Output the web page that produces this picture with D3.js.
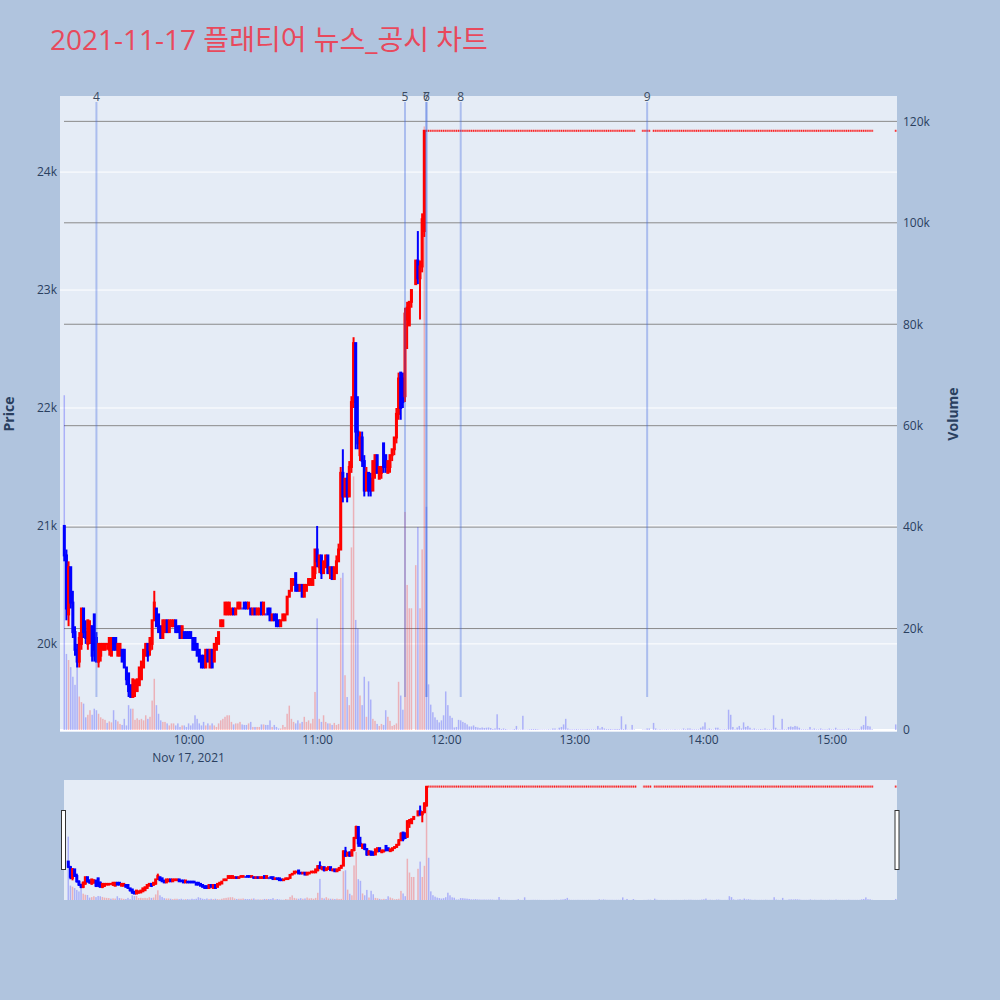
<!DOCTYPE html>
<html><head><meta charset="utf-8">
<script src="https://cdn.jsdelivr.net/npm/d3@7"></script>
<style>html,body{margin:0;padding:0;background:#b0c4de;}svg{display:block}</style>
</head><body>
<svg id="chart" width="1000" height="1000"></svg>
<script>
// ---------------- DATA ----------------
const chartTitle = "2021-11-17 플래티어 뉴스_공시 차트";
const dateLabel = "Nov 17, 2021";
const activeStart = "09:02";   // first minute candle, one value per minute, null = no trade
const openP = [
21000,20750,20250,20650,20350,20100,19950,19850,20000,20300,
20100,20000,20050,20150,20250,20050,19850,19900,19950,19950,
20000,19950,19900,20050,20050,19900,19900,19950,19950,19800,
19750,19650,19550,19600,19600,19650,19700,19800,19900,20000,
19950,20000,20200,20300,20250,20150,20050,20100,20200,20100,
20150,20150,20200,20150,20150,20050,20100,20100,20100,20100,
20050,20050,20000,19950,19900,19900,19800,19950,19800,19950,
19850,19950,20000,20150,20150,20250,20250,20250,20250,20300,
20250,20300,20300,20300,20350,20350,20300,20300,20250,20300,
20250,20250,20350,20250,20250,20300,20300,20200,20250,20250,
20200,20150,20200,20200,20250,20400,20450,20500,20600,20500,
20450,20500,20400,20450,20500,20500,20500,20600,20800,20650,
20750,20600,20650,20750,20600,20650,20550,20600,20700,20800,
21450,21250,21400,21250,21500,22050,22550,21800,21600,21750,
21550,21300,21450,21400,21300,21450,21600,21400,21450,21700,
21600,21450,21500,21600,21650,21750,21950,22300,22250,22100,
22750,22700,22900,null,23050,23250,23100,23200,23500];
const highP = [
21000,20800,20700,20650,20450,20150,20000,20100,20300,20300,
20200,20200,20200,20150,20250,20100,20000,20000,20000,20000,
20000,20050,20050,20050,20050,20000,20000,19950,19950,19800,
19750,19650,19700,19700,19700,19800,19850,19950,20000,20000,
20050,20200,20450,20300,20250,20150,20200,20200,20200,20200,
20200,20200,20200,20150,20150,20150,20100,20100,20100,20100,
20050,20050,20000,19950,19900,19900,19950,19950,19950,19950,
20000,20050,20100,20200,20200,20350,20350,20350,20300,20300,
20300,20350,20350,20300,20350,20350,20350,20300,20300,20300,
20300,20300,20350,20350,20250,20300,20300,20250,20250,20250,
20200,20200,20250,20250,20400,20450,20550,20550,20600,20500,
20500,20500,20500,20500,20550,20550,20650,20800,21000,20750,
20750,20700,20750,20750,20650,20650,20650,20750,20850,21500,
21650,21400,21450,21550,22100,22600,22550,22100,21800,21800,
21600,21500,21450,21450,21550,21600,21600,21500,21500,21700,
21600,21550,21600,21650,21750,22000,22300,22300,22300,22850,
22900,22900,23000,null,23250,23500,23250,23650,24350];
const lowP = [
20700,20200,20150,20300,20050,19900,19800,19800,19950,20050,
20000,19950,20000,19850,19850,19850,19800,19850,19950,19950,
19950,19900,19900,19950,19950,19900,19900,19850,19800,19650,
19550,19550,19550,19550,19600,19650,19700,19800,19900,19850,
19900,19950,20200,20150,20100,20050,20050,20100,20100,20100,
20150,20150,20100,20100,20050,20050,20050,20050,20050,20050,
19950,19950,19900,19850,19800,19800,19800,19850,19800,19800,
19850,19950,20000,20150,20150,20250,20250,20250,20250,20250,
20250,20300,20300,20300,20300,20300,20300,20250,20250,20250,
20250,20250,20250,20250,20250,20250,20200,20200,20200,20150,
20150,20150,20200,20200,20250,20400,20450,20500,20450,20450,
20450,20400,20400,20450,20500,20500,20500,20550,20650,20600,
20550,20600,20650,20600,20550,20550,20550,20600,20700,20800,
21200,21250,21200,21250,21450,22000,21650,21650,21550,21500,
21250,21300,21250,21250,21300,21400,21450,21400,21400,21450,
21450,21450,21450,21550,21600,21700,21900,21900,22000,22050,
22500,22700,22850,null,23050,23050,22750,23150,23450];
const closeP = [
20750,20300,20650,20350,20100,19950,19850,20050,20300,20100,
20050,20200,20150,19900,19950,19850,20000,20000,20000,20000,
20000,20050,20050,19950,19950,20000,20000,19850,19800,19700,
19600,19550,19700,19650,19700,19800,19850,19950,20000,19900,
20050,20200,20350,20150,20100,20050,20200,20200,20100,20200,
20200,20200,20100,20100,20050,20150,20050,20050,20050,20050,
19950,19950,19900,19850,19800,19800,19950,19850,19950,19800,
20000,20050,20100,20200,20200,20350,20350,20350,20300,20250,
20300,20350,20350,20300,20300,20300,20350,20250,20300,20250,
20300,20300,20250,20350,20250,20250,20200,20250,20200,20150,
20150,20200,20250,20250,20400,20450,20550,20550,20450,20450,
20500,20400,20500,20500,20550,20550,20650,20800,20700,20750,
20600,20700,20750,20600,20650,20550,20650,20700,20800,21450,
21250,21400,21250,21500,22050,22550,21800,21700,21750,21550,
21300,21450,21300,21300,21550,21600,21450,21500,21500,21500,
21500,21550,21600,21650,21750,21950,22250,22000,22050,22800,
22850,22900,23000,null,23250,23100,23200,23600,24350];
const volActive = [
66000,15000,13800,12400,10500,8900,14000,6600,5500,5200,
2500,3000,3900,3000,4200,3900,3200,2500,2200,2000,
1400,1700,1500,3900,2000,1700,1200,1000,2200,900,
4900,4200,4200,2000,2300,2000,2200,1900,2900,2200,
2600,5800,10100,4900,3200,1900,1600,1600,1300,900,
1300,1300,900,1300,600,900,900,600,1300,900,
1300,2900,2200,1300,900,1600,900,1300,900,1300,
900,600,1300,1900,2200,2600,2900,2900,1600,1100,
1300,1300,1600,1100,1000,1000,1300,1600,600,600,
600,600,1100,1100,1000,1000,1900,600,1000,600,
300,300,1000,600,3200,4800,2200,1600,1300,1900,
1300,1600,2600,1600,1900,1300,2200,7500,22000,2200,
1600,2900,1600,1300,1300,1000,1400,1000,1200,30000,
31000,10800,6500,4900,36000,50000,21700,20000,6800,4900,
10500,2600,9600,6000,2200,1800,1200,800,1200,1000,
3900,2600,1800,800,1000,1300,9500,6800,4000,43000,
28600,24000,24000,null,32500,40000,24000,35600,119000];
const limitPrice = 24350;      // price held from 11:51 to the close (upper limit)
const flatStart = "11:51";      // one volume per minute, null = no trade
const flatVolume = [
44000,9000,5000,3500,2500,2000,1500,1900,2900,7600,
4900,2800,2400,500,600,2000,1900,1600,1400,1100,
700,700,900,600,500,400,500,400,450,500,
400,200,300,3100,400,200,300,200,100,100,
100,200,800,100,100,2800,100,100,150,200,
200,200,150,100,100,100,100,150,100,300,
300,100,450,600,1100,2200,300,150,150,150,
200,150,150,150,150,200,150,150,150,150,
800,300,600,300,200,200,200,150,200,200,
200,2700,200,1100,100,100,1000,100,null,null,
null,100,100,300,300,null,1400,300,100,150,
100,100,150,100,100,100,150,100,100,100,
300,150,300,300,150,150,150,150,450,700,
1500,150,300,150,100,450,450,150,100,150,
150,4000,3000,600,150,500,800,300,1500,600,
800,450,150,300,150,150,200,150,300,150,
150,150,2900,450,150,150,2200,150,150,600,
700,600,800,700,450,150,150,150,150,600,
150,300,150,150,300,150,150,150,300,150,
150,450,150,150,150,150,150,300,150,150,
150,150,150,700,1000,2700,800,700,150,null];
const closingTime = "15:30";
const closingVolume = 1100;
const newsTimes = ["09:17","11:41","11:51","11:51","12:07","13:34"];
const newsLabels = ["4","5","6","7","8","9"];
const priceTicks = [20000,21000,22000,23000,24000];
const volumeTicks = [0,20000,40000,60000,80000,100000,120000];
const timeTicks = ["10:00","11:00","12:00","13:00","14:00","15:00"];
const timeRange = ["09:00:00","15:30:36"];
const priceRange = [19270,24645];
const volumeRange = [0,125000];

// ---------------- BUILD ----------------
const parseHM = s => { const p = s.split(":").map(Number); return new Date(2021,10,17,p[0],p[1],p[2]||0); };
const addMin = (d,k) => new Date(d.getTime() + k*60000);
const candles = [];
const t0 = parseHM(activeStart);
openP.forEach((o,i) => { if (o == null) return;
  candles.push({t:addMin(t0,i), o, h:highP[i], l:lowP[i], c:closeP[i], v:volActive[i]}); });
const t1 = parseHM(flatStart);
flatVolume.forEach((v,i) => { if (v == null) return;
  candles.push({t:addMin(t1,i), o:limitPrice, h:limitPrice, l:limitPrice, c:limitPrice, v}); });
candles.push({t:parseHM(closingTime), o:limitPrice, h:limitPrice, l:limitPrice, c:limitPrice, v:closingVolume});
let cPrev = -Infinity;
candles.forEach(d => { d.up = d.c > d.o || (d.c === d.o && d.c >= cPrev); d.volUp = d.c > d.o; cPrev = d.c; });

const UP = "#ff0000", DN = "#0000ff";
const FONT = "'Open Sans','Noto Sans CJK KR',sans-serif";
const svg = d3.select("#chart");
svg.append("rect").attr("width",1000).attr("height",1000).attr("fill","#b0c4de");

const M = {l:60, r:897, t:96, b:730};
const x = d3.scaleTime().domain(timeRange.map(parseHM)).range([M.l, M.r]);
const yP = d3.scaleLinear().domain(priceRange).range([M.b, M.t]);
const yV = d3.scaleLinear().domain(volumeRange).range([M.b, M.t]);

const S = {l:64, r:897, t:780, b:900};
const xs = d3.scaleTime().domain(timeRange.map(parseHM)).range([S.l, S.r]);
const yPs = d3.scaleLinear().domain(priceRange).range([S.b, S.t]);
const yVs = d3.scaleLinear().domain(volumeRange).range([S.b, S.t]);

const defs = svg.append("defs");
defs.append("clipPath").attr("id","clipMain").append("rect").attr("x",M.l).attr("y",M.t).attr("width",M.r-M.l).attr("height",M.b-M.t+1);
defs.append("clipPath").attr("id","clipSl").append("rect").attr("x",S.l).attr("y",S.t).attr("width",S.r-S.l).attr("height",S.b-S.t);

// main background
svg.append("rect").attr("x",M.l).attr("y",M.t).attr("width",M.r-M.l).attr("height",M.b-M.t+2).attr("fill","#e5ecf6");
const grid = svg.append("g");
grid.selectAll("line.pg").data(priceTicks).join("line")
  .attr("x1",M.l).attr("x2",M.r).attr("y1",d=>yP(d)).attr("y2",d=>yP(d))
  .attr("stroke","#ffffff").attr("stroke-width",1);
grid.selectAll("line.vg").data(volumeTicks.filter(v=>v>0)).join("line")
  .attr("x1",M.l+4).attr("x2",M.r).attr("y1",d=>yV(d)).attr("y2",d=>yV(d))
  .attr("stroke","#8a8a8a").attr("stroke-width",1);
grid.append("line").attr("x1",M.l).attr("x2",M.r).attr("y1",yV(0)).attr("y2",yV(0))
  .attr("stroke","#ffffff").attr("stroke-width",2);

function drawPanel(g, X, YP, YV, bodyPad) {
  g.selectAll("rect.vol").data(candles).join("rect")
    .attr("x", d=>X(d.t)-0.75).attr("width",1.5)
    .attr("y", d=>YV(d.v)).attr("height", d=>Math.max(0, YV(0)-YV(d.v)))
    .attr("fill", d=>d.volUp?UP:DN).attr("opacity",0.25);
  const cg = g.append("g");
  candles.forEach(d => {
    const cx = X(d.t), col = d.up?UP:DN;
    if (d.h === d.l) {
      cg.append("rect").attr("x",cx-1.3).attr("y",YP(d.c)-1).attr("width",2.6).attr("height",2)
        .attr("fill",col).attr("opacity",0.3);
      cg.append("rect").attr("x",cx-0.5).attr("y",YP(d.c)-1).attr("width",1).attr("height",2)
        .attr("fill",col).attr("opacity",0.85);
      return;
    }
    cg.append("line").attr("x1",cx).attr("x2",cx).attr("y1",YP(d.h)).attr("y2",YP(d.l))
      .attr("stroke",col).attr("stroke-width",2);
    const top = YP(Math.max(d.o,d.c)), bot = YP(Math.min(d.o,d.c));
    cg.append("rect").attr("x",cx-1.5).attr("width",3)
      .attr("y",top-bodyPad).attr("height",bot-top+2*bodyPad).attr("fill",col);
  });
}
const mainG = svg.append("g").attr("clip-path","url(#clipMain)");
drawPanel(mainG, x, yP, yV, 1);

// news lines
const lineTop = yP(d3.max(candles,d=>d.h)*1.01), lineBot = yP(d3.min(candles,d=>d.l));
const news = svg.append("g");
newsTimes.forEach((t,i) => {
  const nx = x(parseHM(t));
  news.append("line").attr("x1",nx).attr("x2",nx).attr("y1",lineTop).attr("y2",lineBot)
    .attr("stroke","royalblue").attr("stroke-width",2).attr("opacity",0.35);
  news.append("text").attr("x",nx).attr("y",lineTop-1.5).attr("text-anchor","middle")
    .attr("font-family",FONT).attr("font-size",12).attr("fill","#3b4a60").text(newsLabels[i]);
});

// axes
const axStyle = g => { g.select(".domain").remove(); g.selectAll("text").attr("font-family",FONT).attr("font-size",12).attr("fill","#2a3f5f"); };
svg.append("g").attr("transform",`translate(${M.l},0)`)
  .call(d3.axisLeft(yP).tickValues(priceTicks).tickFormat(d=>d/1000+"k").tickSize(0).tickPadding(3)).call(axStyle);
svg.append("g").attr("transform",`translate(${M.r},0)`)
  .call(d3.axisRight(yV).tickValues(volumeTicks).tickFormat(d=>d===0?"0":d/1000+"k").tickSize(0).tickPadding(6)).call(axStyle);
svg.append("g").attr("transform",`translate(0,${M.b})`)
  .call(d3.axisBottom(x).tickValues(timeTicks.map(parseHM)).tickFormat(d3.timeFormat("%H:%M")).tickSize(0).tickPadding(5)).call(axStyle);
svg.append("text").attr("x",x(parseHM(timeTicks[0]))).attr("y",762).attr("text-anchor","middle")
  .attr("font-family",FONT).attr("font-size",12).attr("fill","#2a3f5f").text(dateLabel);

svg.append("text").attr("transform","translate(14,414) rotate(-90)").attr("text-anchor","middle")
  .attr("font-family",FONT).attr("font-size",14).attr("font-weight","bold").attr("fill","#2a3f5f").text("Price");
svg.append("text").attr("transform","translate(958,414) rotate(-90)").attr("text-anchor","middle")
  .attr("font-family",FONT).attr("font-size",14).attr("font-weight","bold").attr("fill","#2a3f5f").text("Volume");

svg.append("text").attr("x",50).attr("y",50).attr("font-family",FONT).attr("font-size",28)
  .attr("fill","#e8495c").text(chartTitle);

// range slider
svg.append("rect").attr("x",S.l).attr("y",S.t).attr("width",S.r-S.l).attr("height",S.b-S.t).attr("fill","#e5ecf6");
const slG = svg.append("g").attr("clip-path","url(#clipSl)");
drawPanel(slG, xs, yPs, yVs, 0.8);
[S.l-2.5, S.r-2].forEach(hx => {
  svg.append("rect").attr("x",hx).attr("y",810.5).attr("width",4).attr("height",59)
    .attr("fill","#ffffff").attr("stroke","#333").attr("stroke-width",1);
});
</script>
</body></html>
